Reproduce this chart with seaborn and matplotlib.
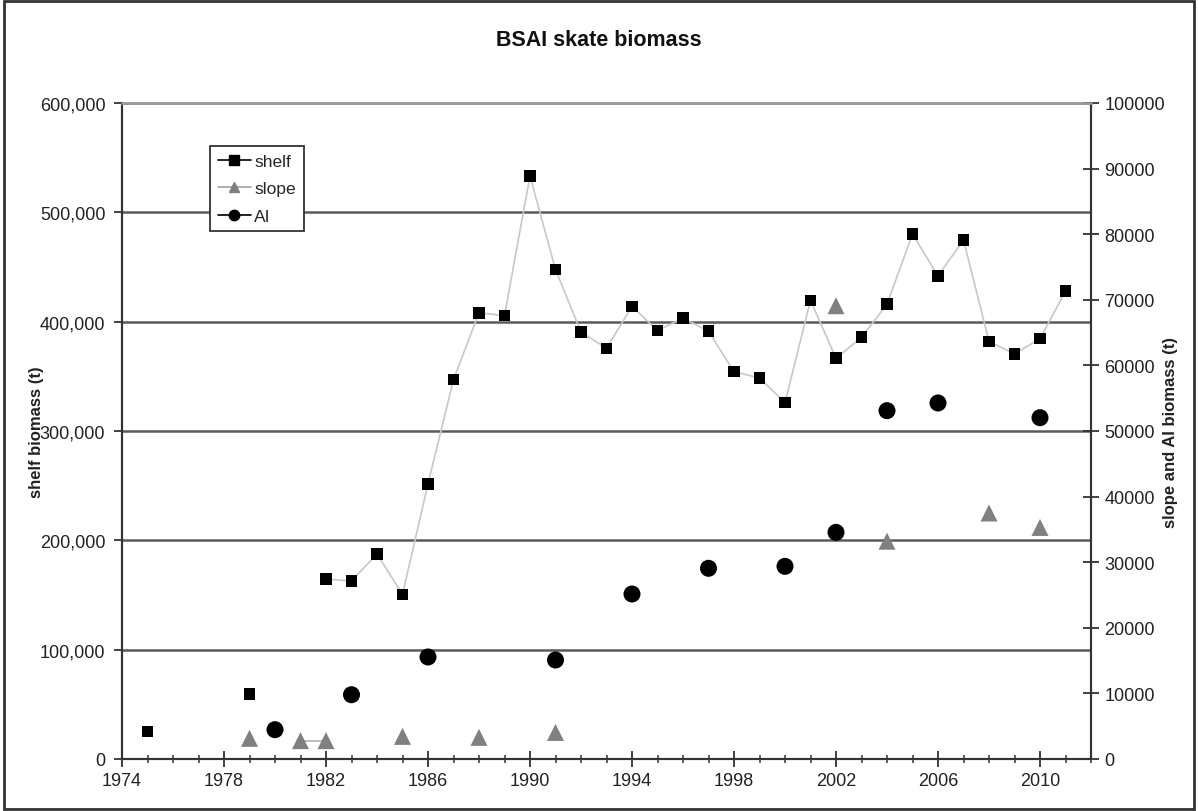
# -*- coding: utf-8 -*-
import matplotlib
matplotlib.use('Agg')
import matplotlib.pyplot as plt
import seaborn as sns
import pandas as pd
from matplotlib.lines import Line2D
from matplotlib.patches import Rectangle
from matplotlib.ticker import FuncFormatter, MultipleLocator

# ── Data ─────────────────────────────────────────────────────────────────────
shelf_years = [1975, 1979, 1982, 1983, 1984, 1985, 1986, 1987, 1988, 1989, 1990,
               1991, 1992, 1993, 1994, 1995, 1996, 1997, 1998, 1999, 2000, 2001,
               2002, 2003, 2004, 2005, 2006, 2007, 2008, 2009, 2010, 2011]
shelf_biomass = [25000, 59500, 164600, 162800, 187500, 150500, 251600, 347000,
                 408200, 405500, 533200, 447600, 390600, 375600, 414000, 391800,
                 403400, 391200, 354300, 348500, 325900, 419500, 366500, 385700,
                 415900, 480200, 441800, 474700, 382000, 370400, 384500, 427800]

slope_years = [1979, 1981, 1982, 1985, 1988, 1991, 2002, 2004, 2008, 2010]
slope_biomass = [3150, 2800, 2800, 3450, 3300, 4050, 69100, 33200, 37500, 35300]

ai_years = [1980, 1983, 1986, 1991, 1994, 1997, 2000, 2002, 2004, 2006, 2010]
ai_biomass = [4470, 9800, 15550, 15090, 25150, 29070, 29370, 34550, 53100, 54270, 52030]

year_ticks = [1974, 1978, 1982, 1986, 1990, 1994, 1998, 2002, 2006, 2010]

# connected runs (consecutive survey years)
shelf_run = (1982, 2011)
slope_run = (1981, 1982)

shelf_df = pd.DataFrame({'year': shelf_years, 'biomass': shelf_biomass})
slope_df = pd.DataFrame({'year': slope_years, 'biomass': slope_biomass})
ai_df = pd.DataFrame({'year': ai_years, 'biomass': ai_biomass})

# ── Style ────────────────────────────────────────────────────────────────────
sns.set_style('ticks')
plt.rcParams['font.family'] = ['Liberation Sans', 'DejaVu Sans']

SLOPE_GRAY = '#808080'
AXIS_COL = '#333333'
TICK_FS = 13

fig = plt.figure(figsize=(11.98, 8.12), dpi=100)
ax = fig.add_axes([122 / 1198, 1 - 760 / 812, (1091 - 122) / 1198, (760 - 104) / 812])
ax2 = ax.twinx()

# ── Shelf (left axis) ────────────────────────────────────────────────────────
run = shelf_df[(shelf_df['year'] >= shelf_run[0]) & (shelf_df['year'] <= shelf_run[1])]
sns.lineplot(data=run, x='year', y='biomass', ax=ax, color='#c8c8c8', lw=1.2, zorder=3)
sns.scatterplot(data=shelf_df, x='year', y='biomass', ax=ax, marker='s', s=70,
                color='black', edgecolor='none', zorder=4)

# ── Slope and AI (right axis) ────────────────────────────────────────────────
srun = slope_df[(slope_df['year'] >= slope_run[0]) & (slope_df['year'] <= slope_run[1])]
sns.lineplot(data=srun, x='year', y='biomass', ax=ax2, color='#b0b0b0', lw=1.2, zorder=3)
sns.scatterplot(data=slope_df, x='year', y='biomass', ax=ax2, marker='^', s=150,
                color=SLOPE_GRAY, edgecolor='none', zorder=4)
sns.scatterplot(data=ai_df, x='year', y='biomass', ax=ax2, marker='o', s=150,
                color='black', edgecolor='none', zorder=4)

# ── Axes ─────────────────────────────────────────────────────────────────────
ax.set_xlim(1974, 2012)
ax.set_ylim(0, 600000)
ax2.set_ylim(0, 100000)
ax.set_xticks(year_ticks)
ax.xaxis.set_minor_locator(MultipleLocator(1))
ax.yaxis.set_major_locator(MultipleLocator(100000))
ax2.yaxis.set_major_locator(MultipleLocator(10000))
ax.yaxis.set_major_formatter(FuncFormatter(lambda v, p: f'{int(v):,}'))
ax2.yaxis.set_major_formatter(FuncFormatter(lambda v, p: f'{int(v)}'))

ax.set_xlabel('')
ax.set_ylabel('')
ax2.set_ylabel('')

ax.yaxis.grid(True, color='#5a5a5a', lw=1.8)
ax.set_axisbelow(True)

ax.tick_params(axis='y', direction='out', length=6, width=1.3, color=AXIS_COL,
               labelsize=TICK_FS, labelcolor='#222222', pad=6)
ax.tick_params(axis='x', which='major', direction='inout', length=11, width=1.3,
               color=AXIS_COL, labelsize=TICK_FS, labelcolor='#222222', pad=4)
ax.tick_params(axis='x', which='minor', direction='inout', length=6, width=1.1,
               color=AXIS_COL)
ax2.tick_params(axis='y', direction='inout', length=11, width=1.3, color=AXIS_COL,
                labelsize=TICK_FS, labelcolor='#222222', pad=4)

for a in (ax, ax2):
    for side in ('left', 'bottom', 'right'):
        a.spines[side].set_color(AXIS_COL)
        a.spines[side].set_linewidth(1.5)
        a.spines[side].set_visible(True)
    a.spines['top'].set_color('#9a9a9a')
    a.spines['top'].set_linewidth(1.8)
    a.spines['top'].set_visible(True)

# ── Legend ───────────────────────────────────────────────────────────────────
handles = [
    Line2D([], [], color='black', lw=1.2, marker='s', markersize=7.5),
    Line2D([], [], color='#a0a0a0', lw=1.2, marker='^', markersize=7.5,
           markerfacecolor=SLOPE_GRAY, markeredgecolor=SLOPE_GRAY),
    Line2D([], [], color='black', lw=1.2, marker='o', markersize=7.5),
]
leg = ax2.legend(handles, ['shelf', 'slope', 'AI'], loc='upper left',
                 bbox_to_anchor=((210 - 122) / 969, (760 - 147) / 656),
                 frameon=True, fancybox=False, framealpha=1, edgecolor='#333333',
                 fontsize=12.5, handlelength=1.9, handletextpad=0.2,
                 borderpad=0.45, labelspacing=0.7, borderaxespad=0)
leg.get_frame().set_linewidth(1.3)

# ── Titles / labels ──────────────────────────────────────────────────────────
fig.text(0.5, 1 - 40 / 812, 'BSAI skate biomass', ha='center', va='center',
         fontsize=15.5, fontweight='bold', color='#111111')
fig.text(37 / 1198, 1 - 432 / 812, 'shelf biomass (t)', ha='center', va='center',
         rotation=90, fontsize=12, fontweight='bold', color='#222222')
fig.text(1171 / 1198, 1 - 432 / 812, 'slope and AI biomass (t)', ha='center',
         va='center', rotation=90, fontsize=12, fontweight='bold', color='#222222')

# outer chart border
fig.patches.append(Rectangle((0.003, 0.003), 0.994, 0.994, transform=fig.transFigure,
                             fill=False, edgecolor='#333333', lw=2))

plt.savefig('out.png', dpi=100)
plt.close(fig)
